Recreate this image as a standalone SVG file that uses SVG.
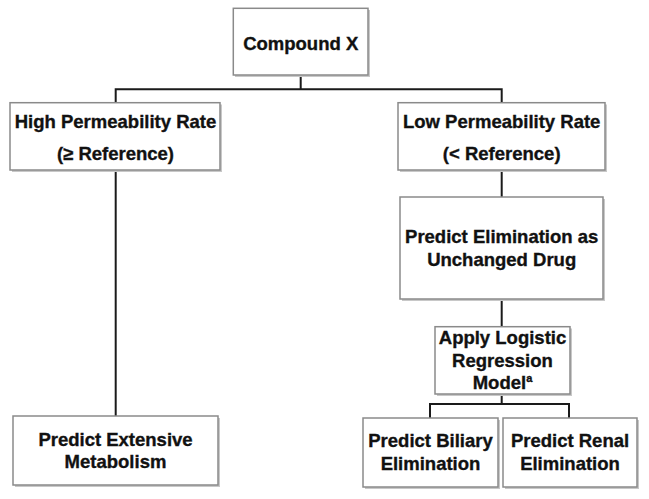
<svg xmlns="http://www.w3.org/2000/svg" width="649" height="499" viewBox="0 0 649 499">
<style>
.box{fill:#fff;stroke:#8a8a8a;stroke-width:1.5}
.sh{fill:#c8c8c8}
.t{font-family:"Liberation Sans",Arial,sans-serif;font-weight:bold;font-size:18.5px;fill:#111;stroke:#111;stroke-width:0.35;text-anchor:middle}
.c{fill:none;stroke:#1a1a1a;stroke-width:2}
</style>
<rect width="649" height="499" fill="#fff"/>
<g id="connectors">
<path class="c" d="M300.7 75V89.3M115.7 102.7V89.3H501.7V102.7"/>
<path class="c" d="M115.7 170V416"/>
<path class="c" d="M501.7 170V197"/>
<path class="c" d="M501.7 299V326"/>
<path class="c" d="M501.7 394V404M430 418V404H569V418"/>
</g>
<g id="compound">
<rect class="sh" x="235" y="10" width="135" height="67"/>
<rect class="box" x="233.3" y="8.3" width="134.7" height="66.7"/>
<text class="t" x="300.7" y="50">Compound X</text>
</g>
<g id="high">
<rect class="sh" x="12" y="104.5" width="210" height="67.5"/>
<rect class="box" x="10" y="102.7" width="210" height="67.3"/>
<text class="t" x="115.5" y="128">High Permeability Rate</text>
<text class="t" x="115.5" y="160">(≥ Reference)</text>
</g>
<g id="low">
<rect class="sh" x="400" y="104.5" width="207" height="67.5"/>
<rect class="box" x="398" y="102.7" width="207" height="67.3"/>
<text class="t" x="501.7" y="128">Low Permeability Rate</text>
<text class="t" x="501.7" y="160">(&lt; Reference)</text>
</g>
<g id="unchanged">
<rect class="sh" x="402" y="199" width="203" height="102"/>
<rect class="box" x="400" y="197" width="203" height="102"/>
<text class="t" x="501.7" y="243">Predict Elimination as</text>
<text class="t" x="501.7" y="266">Unchanged Drug</text>
</g>
<g id="logistic">
<rect class="sh" x="437" y="328.5" width="135" height="67.5"/>
<rect class="box" x="435" y="326.7" width="135" height="67.3"/>
<text class="t" x="502.5" y="344">Apply Logistic</text>
<text class="t" x="502.5" y="367">Regression</text>
<text class="t" x="502.5" y="389">Model<tspan font-size="11" dy="-7">a</tspan></text>
</g>
<g id="extensive">
<rect class="sh" x="15" y="418" width="205" height="69"/>
<rect class="box" x="13" y="416" width="205" height="69"/>
<text class="t" x="115.5" y="446">Predict Extensive</text>
<text class="t" x="115.5" y="468">Metabolism</text>
</g>
<g id="biliary">
<rect class="sh" x="365" y="420" width="135" height="69"/>
<rect class="box" x="363" y="418" width="135" height="69"/>
<text class="t" x="430.5" y="447">Predict Biliary</text>
<text class="t" x="430.5" y="470">Elimination</text>
</g>
<g id="renal">
<rect class="sh" x="505" y="420" width="134" height="69"/>
<rect class="box" x="503" y="418" width="134" height="69"/>
<text class="t" x="570" y="447">Predict Renal</text>
<text class="t" x="570" y="470">Elimination</text>
</g>
</svg>
